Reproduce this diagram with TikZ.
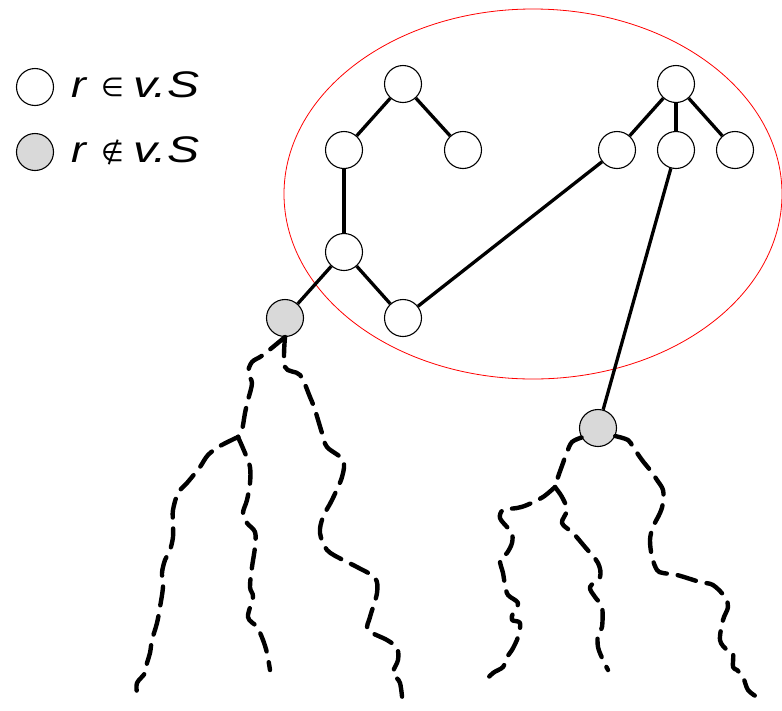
\documentclass[tikz,border=0pt]{standalone}
\usepackage{fontspec}
\setmainfont{Liberation Sans}
\newfontfamily\symfont{DejaVu Sans}
\begin{document}
\begin{tikzpicture}[x=1pt,y=-1pt,
  vtx/.style={circle,draw=black,line width=1.1pt,fill=white,minimum size=37pt,inner sep=0pt},
  gvtx/.style={vtx,fill=gray!30},
  edge/.style={line width=3.3pt,black},
  wig/.style={line width=4.4pt,black,dash pattern=on 19pt off 11pt,line cap=round,line join=round},
  lbl/.style={anchor=base west,inner sep=0pt,font=\fontsize{37}{40}\selectfont\itshape},
  sym/.style={anchor=base west,inner sep=0pt,font=\symfont\fontsize{26}{30}\selectfont}]
\useasboundingbox (0,0) rectangle (782,710);
% ellipse
\draw[red,line width=0.8pt] (533,194) ellipse [x radius=249, y radius=185];
% legend
\node[vtx] (l1) at (35,87) {};
\node[gvtx] (l2) at (35,152) {};
\node[lbl] (t1r) at (71,97) {\scalebox{1.2}[1]{r}};
\node[sym] (t1e) at (101,96) {∈};
\node[lbl] (t1v) at (133,97) {\scalebox{1.3}[1]{v.S}};
\node[lbl] (t2r) at (71,162) {\scalebox{1.2}[1]{r}};
\node[sym] (t2e) at (101,161) {\itshape ∉};
\node[lbl] (t2v) at (133,162) {\scalebox{1.3}[1]{v.S}};
% nodes
\node[vtx] (a) at (403,84) {};
\node[vtx] (b) at (344,150) {};
\node[vtx] (c) at (463,150) {};
\node[vtx] (d) at (344,252) {};
\node[vtx] (e) at (403,318) {};
\node[gvtx] (g1) at (285,318) {};
\node[vtx] (r) at (676,84) {};
\node[vtx] (r1) at (617,150) {};
\node[vtx] (r2) at (676,150) {};
\node[vtx] (r3) at (735,150) {};
\node[gvtx] (g2) at (598,428) {};
% edges
\draw[edge] (a) -- (b);
\draw[edge] (a) -- (c);
\draw[edge] (b) -- (d);
\draw[edge] (d) -- (e);
\draw[edge] (d) -- (g1);
\draw[edge] (e) -- (r1);
\draw[edge] (r) -- (r1);
\draw[edge] (r) -- (r2);
\draw[edge] (r) -- (r3);
\draw[edge] (r2) -- (g2);
% left subtree
\coordinate (lb1) at (238,437);
\draw[wig] plot[smooth,tension=0.55] coordinates {(g1.south) (263,355) (252,362) (248,373) (252,383) (248,400) (245,413) (242,430) (lb1)};
\draw[wig] plot[smooth,tension=0.55] coordinates {(lb1) (220,446) (208,455) (200,467) (192,477) (187,483) (178,493) (173,510) (173,523) (173,537) (170,550) (165,560) (162,573) (163,587) (160,607) (157,623) (152,640) (150,653) (147,663) (145,673) (137,683) (137,693)};
\draw[wig] plot[smooth,tension=0.55] coordinates {(lb1) (245,453) (250,467) (250,483) (247,500) (243,513) (247,523) (255,532) (255,547) (252,567) (250,587) (253,597) (248,617) (257,627) (263,640) (267,653) (270,670)};
\draw[wig] plot[smooth,tension=0.55] coordinates {(g1.south) (285,367) (300,375) (310,397) (315,410) (322,433) (327,447) (343,460) (342,477) (332,500) (323,517) (320,533) (327,550) (343,560) (357,567) (375,578) (377,593) (370,617) (368,630) (387,640) (397,648) (398,660) (393,673) (400,683) (403,707)};
% right subtree
\coordinate (rb1) at (555,487);
\draw[wig] plot[smooth,tension=0.55] coordinates {(g2.-150) (572,442) (567,452) (563,463) (558,477) (rb1)};
\draw[wig] plot[smooth,tension=0.55] coordinates {(rb1) (543,497) (527,505) (517,508) (503,510) (500,518) (507,527) (512,533) (512,543) (507,553) (500,560) (503,573) (505,585) (508,595) (518,603) (513,613) (512,620) (520,623) (518,637) (512,650) (507,657) (503,667) (493,673) (483,683)};
\draw[wig] plot[smooth,tension=0.55] coordinates {(rb1) (562,497) (567,510) (562,523) (573,533) (585,547) (598,563) (600,577) (590,587) (595,597) (602,607) (602,627) (598,633) (598,647) (603,660) (608,670)};
\draw[wig] plot[smooth,tension=0.55] coordinates {(g2.-25) (628,440) (633,447) (642,460) (650,470) (657,480) (663,490) (663,503) (660,513) (653,527) (650,540) (652,557) (657,570) (663,573) (677,575) (700,582) (713,585) (725,597) (728,607) (723,620) (720,640) (727,650) (733,653) (733,667) (737,670) (743,677) (748,690) (757,697)};
\end{tikzpicture}
\end{document}
